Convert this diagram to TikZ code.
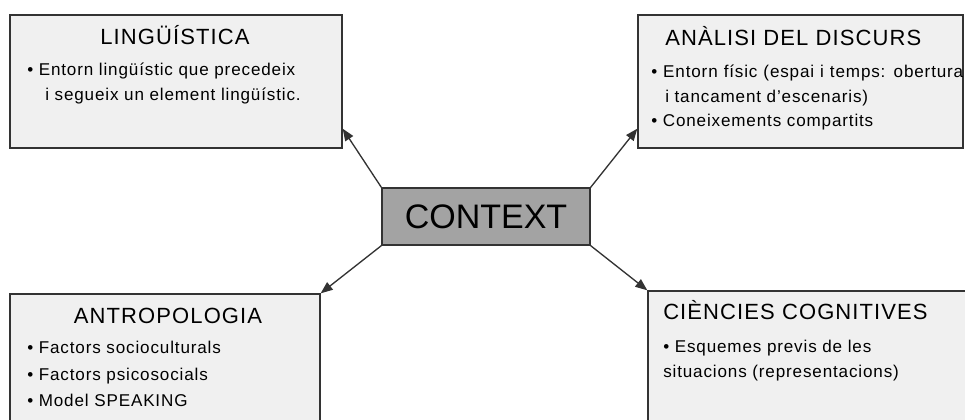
\documentclass[tikz,border=0pt]{standalone}
\usepackage{fontspec}
\setmainfont{Liberation Sans}
\newfontfamily\spacedfont[LetterSpace=5]{Liberation Sans}
\usetikzlibrary{fit,calc,arrows.meta}
\definecolor{boxgray}{HTML}{F0F0F0}
\definecolor{ctxgray}{HTML}{A3A3A3}
\definecolor{edgegray}{HTML}{333333}
\tikzset{
  area/.style={draw=edgegray,fill=boxgray,line width=1pt,inner sep=0pt},
  title/.style={anchor=base west,inner sep=0pt,font=\spacedfont\fontsize{16.5}{19}\selectfont},
  item/.style={anchor=base west,inner sep=0pt,font=\spacedfont\fontsize{12.8}{15}\selectfont},
  link/.style={draw=edgegray,line width=1pt,-{Triangle[length=9pt,width=7pt]}}
}

\begin{document}
\begin{tikzpicture}[x=0.75pt,y=-0.75pt]
  \clip (0,0) rectangle (965,419);
  % Boxes
  \node[area,fit={(10,15) (342,148)}] (ling) {};
  \node[area,fit={(638,15) (963,148)}] (anal) {};
  \node[area,fit={(10,294) (320,440)}] (antr) {};
  \node[area,fit={(648,291) (980,440)}] (cien) {};
  \node[area,fill=ctxgray,fit={(382,188) (590,245)}] (ctx) {};
  \node[inner sep=0pt,font=\fontsize{25.5}{30}\selectfont] (ctxlabel) at (ctx) {CONTEXT};
  % Linguistica
  \node[title,anchor=base] (lingtitle) at (175,44) {LINGÜÍSTICA};
  \node[item] (ling1) at (27,75) {• Entorn lingüístic que precedeix};
  \node[item] (ling2) at (45,100) {i segueix un element lingüístic.};
  % Analisi del discurs
  \node[title] (analtitle) at (665,45) {ANÀLISI DEL DISCURS};
  \node[item] (anal1) at (651,77) {\makebox[234pt][s]{• Entorn físic (espai i temps: obertura}};
  \node[item] (anal2) at (665,102) {i tancament d’escenaris)};
  \node[item] (anal3) at (651,126) {• Coneixements compartits};
  % Antropologia
  \node[title,anchor=base] (antrtitle) at (168,323) {ANTROPOLOGIA};
  \node[item] (antr1) at (27,353) {• Factors socioculturals};
  \node[item] (antr2) at (27,380) {• Factors psicosocials};
  \node[item] (antr3) at (27,406) {• Model SPEAKING};
  % Ciencies cognitives
  \node[title] (cientitle) at (663,319) {CIÈNCIES COGNITIVES};
  \node[item] (cien1) at (663,352) {• Esquemes previs de les};
  \node[item] (cien2) at (663,377) {situacions (representacions)};
  % Arrows
  \draw[link] (ctx.north west) -- ($(ling.south east)+(0,-20)$);
  \draw[link] (ctx.north east) -- ($(anal.south west)+(0,-20)$);
  \draw[link] (ctx.south west) -- (antr.north east);
  \draw[link] (ctx.south east) -- (cien.north west);
\end{tikzpicture}
\end{document}
